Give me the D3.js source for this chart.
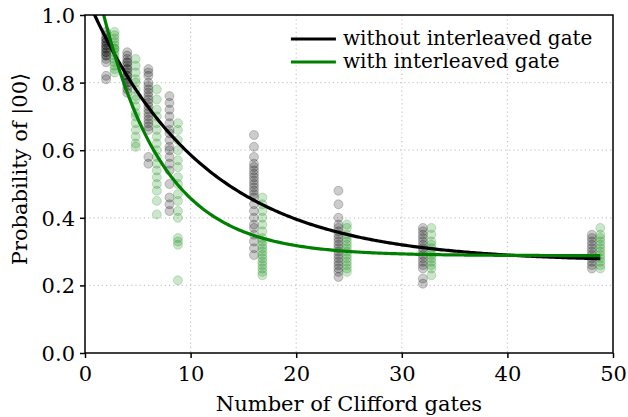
<!DOCTYPE html>
<html>
<head>
<meta charset="utf-8">
<script src="https://cdn.jsdelivr.net/npm/d3@7"></script>
<style>
  body { margin: 0; background: #fff; }
  text { font-family: "DejaVu Serif", serif; }
</style>
</head>
<body>
<div id="chart"></div>
<script>
// sequence lengths (green ones are drawn slightly shifted)
var blackX = [2, 4, 6, 8, 16, 24, 32, 48];
var greenX = [2.8, 4.8, 6.8, 8.8, 16.8, 24.8, 32.8, 48.8];

// measured probabilities, one list per sequence length
var blackY = [
  [0.95, 0.94, 0.93, 0.93, 0.92, 0.92, 0.91, 0.91, 0.90, 0.90, 0.89, 0.89, 0.88, 0.88, 0.87, 0.86, 0.82, 0.81],
  [0.89, 0.88, 0.87, 0.86, 0.86, 0.85, 0.84, 0.84, 0.83, 0.82, 0.82, 0.81, 0.80, 0.80, 0.79, 0.78, 0.77],
  [0.84, 0.83, 0.82, 0.80, 0.79, 0.78, 0.77, 0.76, 0.75, 0.74, 0.73, 0.72, 0.71, 0.70, 0.69, 0.68, 0.67, 0.66, 0.58, 0.56],
  [0.76, 0.74, 0.72, 0.70, 0.68, 0.66, 0.65, 0.63, 0.61, 0.60, 0.58, 0.56, 0.54, 0.50, 0.46, 0.44, 0.42],
  [0.645, 0.61, 0.58, 0.56, 0.55, 0.54, 0.53, 0.52, 0.51, 0.50, 0.49, 0.48, 0.47, 0.46, 0.44, 0.42, 0.40, 0.38, 0.37, 0.35, 0.33, 0.31, 0.29],
  [0.48, 0.44, 0.40, 0.38, 0.37, 0.36, 0.35, 0.34, 0.33, 0.32, 0.31, 0.30, 0.29, 0.28, 0.27, 0.26, 0.25, 0.24, 0.225],
  [0.37, 0.36, 0.35, 0.34, 0.33, 0.32, 0.31, 0.30, 0.29, 0.28, 0.27, 0.26, 0.25, 0.22, 0.205],
  [0.35, 0.34, 0.33, 0.32, 0.31, 0.30, 0.29, 0.28, 0.27, 0.26, 0.25]
];
var greenY = [
  [0.95, 0.94, 0.93, 0.92, 0.91, 0.90, 0.90, 0.89, 0.88, 0.87, 0.86, 0.85, 0.84, 0.83],
  [0.87, 0.85, 0.83, 0.81, 0.80, 0.78, 0.76, 0.75, 0.73, 0.71, 0.70, 0.68, 0.66, 0.64, 0.62, 0.61],
  [0.78, 0.75, 0.72, 0.70, 0.68, 0.66, 0.64, 0.62, 0.60, 0.58, 0.56, 0.54, 0.52, 0.50, 0.48, 0.45, 0.41],
  [0.68, 0.66, 0.63, 0.60, 0.57, 0.55, 0.52, 0.50, 0.47, 0.45, 0.42, 0.40, 0.34, 0.33, 0.32, 0.215],
  [0.46, 0.44, 0.42, 0.40, 0.38, 0.36, 0.34, 0.33, 0.32, 0.31, 0.30, 0.29, 0.28, 0.27, 0.26, 0.25, 0.24, 0.23],
  [0.38, 0.37, 0.35, 0.34, 0.33, 0.32, 0.31, 0.30, 0.29, 0.28, 0.27, 0.26, 0.25, 0.24],
  [0.37, 0.35, 0.33, 0.32, 0.31, 0.30, 0.29, 0.28, 0.27, 0.26, 0.25, 0.23],
  [0.37, 0.35, 0.34, 0.33, 0.32, 0.31, 0.30, 0.29, 0.28, 0.27, 0.26, 0.25]
];

// decay fits A * p^m + B
var blackFit = [0.794, 0.912, 0.27];
var greenFit = [0.97, 0.84, 0.288];

var xTicks = [0, 10, 20, 30, 40, 50];
var yTicks = [0, 0.2, 0.4, 0.6, 0.8, 1.0];
var legendLabels = ["without interleaved gate", "with interleaved gate"];

var svgWidth = 628;
var svgHeight = 417;
var margin = { top: 15, right: 15, bottom: 64, left: 85 };
var width = svgWidth - margin.left - margin.right;
var height = svgHeight - margin.top - margin.bottom;
var fontSize = "21px";

var svg = d3.select("#chart")
  .append("svg")
  .attr("width", svgWidth)
  .attr("height", svgHeight);

var chartGroup = svg.append("g")
  .attr("transform", `translate(${margin.left}, ${margin.top})`);

var xScale = d3.scaleLinear().domain([0, 50]).range([0, width]);
var yScale = d3.scaleLinear().domain([0, 1]).range([height, 0]);

svg.append("defs").append("clipPath").attr("id", "plotClip")
  .append("rect").attr("width", width).attr("height", height);

// grid
chartGroup.append("g").selectAll("line")
  .data(xTicks.slice(1, -1))
  .enter().append("line")
  .attr("x1", d => xScale(d)).attr("x2", d => xScale(d))
  .attr("y1", 0).attr("y2", height)
  .attr("stroke", "#c8c8c8").attr("stroke-width", 1.2)
  .attr("stroke-dasharray", "1.2,3");
chartGroup.append("g").selectAll("line")
  .data(yTicks.slice(1, -1))
  .enter().append("line")
  .attr("x1", 0).attr("x2", width)
  .attr("y1", d => yScale(d)).attr("y2", d => yScale(d))
  .attr("stroke", "#c8c8c8").attr("stroke-width", 1.2)
  .attr("stroke-dasharray", "1.2,3");

// points
function flatten(xs, ys) {
  var out = [];
  xs.forEach(function(x, i) {
    ys[i].forEach(function(y) { out.push({ x: x, y: y }); });
  });
  return out;
}

var plot = chartGroup.append("g").attr("clip-path", "url(#plotClip)");

[[flatten(blackX, blackY), "#000000"], [flatten(greenX, greenY), "#008000"]].forEach(function(s) {
  plot.append("g").selectAll("circle")
    .data(s[0])
    .enter().append("circle")
    .attr("cx", d => xScale(d.x))
    .attr("cy", d => yScale(d.y))
    .attr("r", 4.5)
    .attr("fill", s[1]).attr("fill-opacity", 0.2)
    .attr("stroke", s[1]).attr("stroke-opacity", 0.2).attr("stroke-width", 1);
});

// fit curves
var mSamples = d3.range(0, 48.81, 0.2);
var line = d3.line()
  .x(d => xScale(d[0]))
  .y(d => yScale(d[1]));

[[blackFit, "#000000"], [greenFit, "#008000"]].forEach(function(f) {
  var p = f[0];
  plot.append("path")
    .datum(mSamples.map(m => [m, p[0] * Math.pow(p[1], m) + p[2]]))
    .attr("d", line)
    .attr("fill", "none")
    .attr("stroke", f[1])
    .attr("stroke-width", 3.2);
});

// axes
var bottomAxis = d3.axisBottom(xScale).tickValues(xTicks).tickFormat(d3.format("d")).tickSize(5).tickPadding(5);
var leftAxis = d3.axisLeft(yScale).tickValues(yTicks).tickFormat(d3.format(".1f")).tickSize(5).tickPadding(5);

var gx = chartGroup.append("g")
  .attr("transform", `translate(0, ${height})`)
  .call(bottomAxis);
var gy = chartGroup.append("g")
  .call(leftAxis);

[gx, gy].forEach(function(g) {
  g.select(".domain").remove();
  g.selectAll(".tick line").attr("stroke", "#000").attr("stroke-width", 1.5);
  g.selectAll(".tick text").attr("fill", "#000")
    .style("font-size", fontSize).style("font-family", "'DejaVu Serif', serif");
});
gx.selectAll(".tick text").attr("dy", "0.85em");
gy.selectAll(".tick text").attr("dy", "0.36em");

// frame
chartGroup.append("rect")
  .attr("width", width).attr("height", height)
  .attr("fill", "none").attr("stroke", "#000").attr("stroke-width", 1.5);

// legend
var legend = chartGroup.append("g")
  .attr("transform", `translate(${xScale(19.5)}, 24)`);
legendLabels.forEach(function(label, i) {
  var row = legend.append("g").attr("transform", `translate(0, ${i * 23})`);
  row.append("line")
    .attr("x1", 0).attr("x2", 45).attr("y1", 0).attr("y2", 0)
    .attr("stroke", i === 0 ? "#000" : "#008000").attr("stroke-width", 3.2);
  row.append("text")
    .attr("x", 52).attr("y", 0).attr("dy", "0.32em")
    .style("font-size", "20px")
    .text(label);
});

// axis labels
chartGroup.append("text")
  .attr("transform", "rotate(-90)")
  .attr("x", -height / 2 + 15)
  .attr("y", -margin.left + 27)
  .attr("text-anchor", "middle")
  .style("font-size", fontSize)
  .text("Probability of |00\u27E9");

chartGroup.append("text")
  .attr("x", width / 2)
  .attr("y", height + 58)
  .attr("text-anchor", "middle")
  .style("font-size", fontSize)
  .text("Number of Clifford gates");
</script>
</body>
</html>
